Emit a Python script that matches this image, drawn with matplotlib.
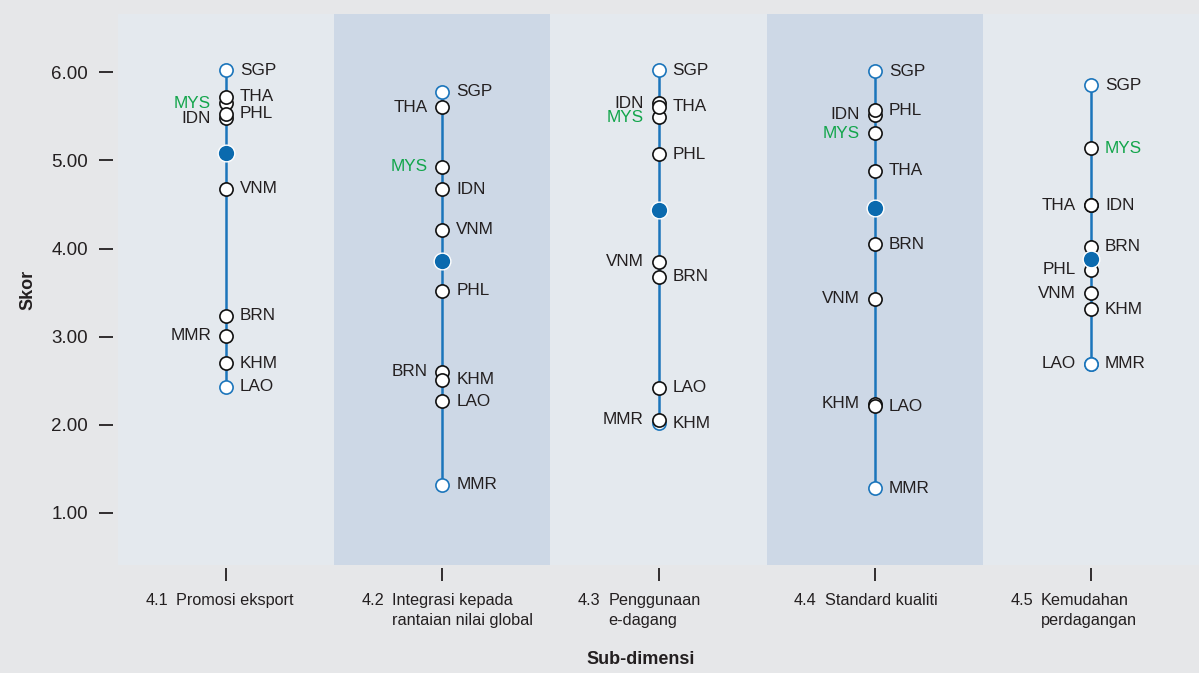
import matplotlib
matplotlib.use("Agg")
import matplotlib.pyplot as plt
from matplotlib.patches import Rectangle

# sub-dimension labels (number, description)
dim_nums = ["4.1", "4.2", "4.3", "4.4", "4.5"]
dim_names = ["Promosi eksport",
             "Integrasi kepada\nrantaian nilai global",
             "Penggunaan\ne-dagang",
             "Standard kualiti",
             "Kemudahan\nperdagangan"]

countries = ["BRN", "KHM", "IDN", "LAO", "MYS", "MMR", "PHL", "SGP", "THA", "VNM"]

# scores per sub-dimension, same order as countries
scores_41 = [3.24, 2.70, 5.48, 2.43, 5.65, 3.01, 5.53, 6.02, 5.72, 4.68]
scores_42 = [2.60, 2.51, 4.67, 2.27, 4.93, 1.32, 3.52, 5.78, 5.60, 4.21]
scores_43 = [3.68, 2.02, 5.65, 2.42, 5.49, 2.06, 5.07, 6.02, 5.61, 3.85]
scores_44 = [4.05, 2.24, 5.52, 2.21, 5.31, 1.28, 5.57, 6.01, 4.88, 3.43]
scores_45 = [4.02, 3.31, 4.49, 2.69, 5.14, 2.69, 3.76, 5.85, 4.49, 3.49]
all_scores = [scores_41, scores_42, scores_43, scores_44, scores_45]

# ASEAN average per sub-dimension
means = [5.08, 3.86, 4.44, 4.46, 3.88]

# which side the country label sits on (L/R), same order as countries
sides_41 = ["R", "R", "L", "R", "L", "L", "R", "R", "R", "R"]
sides_42 = ["L", "R", "R", "R", "L", "R", "R", "R", "L", "R"]
sides_43 = ["R", "R", "L", "R", "L", "L", "R", "R", "R", "L"]
sides_44 = ["R", "L", "L", "R", "L", "R", "R", "R", "R", "L"]
sides_45 = ["R", "R", "R", "L", "R", "R", "L", "R", "L", "L"]
all_sides = [sides_41, sides_42, sides_43, sides_44, sides_45]

BLUE = "#1b75bb"
MEAN_BLUE = "#0b6aae"
GREEN = "#12a54b"
TXT = "#231f20"
BG = "#e6e7e9"
BAND_LIGHT = "#e4e9ee"
BAND_DARK = "#cdd8e6"

plt.rcParams["font.family"] = ["Liberation Sans", "DejaVu Sans"]

fig = plt.figure(figsize=(11.99, 6.73), dpi=100, facecolor=BG)
ax = fig.add_axes([118 / 1199, 1 - 565 / 673, 1081 / 1199, 551 / 673])
ax.set_facecolor(BG)
ax.set_xlim(0, 5)
ax.set_ylim(0.41, 6.66)

for i in range(5):
    ax.add_patch(Rectangle((i, 0.41), 1, 6.25,
                           facecolor=BAND_DARK if i % 2 else BAND_LIGHT,
                           edgecolor="none", zorder=0))

for i, (vals, sides) in enumerate(zip(all_scores, all_sides)):
    xc = i + 0.5
    lo, hi = min(vals), max(vals)
    ax.plot([xc, xc], [lo, hi], color=BLUE, lw=1.8, zorder=2)
    for c, v, s in zip(countries, vals, sides):
        edge = BLUE if v in (lo, hi) else "#111111"
        ax.plot(xc, v, "o", ms=9.5, mfc="white", mec=edge, mew=1.2, zorder=3)
        col = GREEN if c == "MYS" else TXT
        dx = 14 if s == "R" else -15
        ax.annotate(c, (xc, v), xytext=(dx, 0), textcoords="offset pixels",
                    ha="left" if s == "R" else "right", va="center",
                    fontsize=12.3, color=col)
    ax.plot(xc, means[i], "o", ms=12, mfc=MEAN_BLUE, mec="white", mew=1.0, zorder=4)

for sp in ax.spines.values():
    sp.set_visible(False)
ax.spines["left"].set_position(("outward", 3.5))
ax.spines["bottom"].set_position(("outward", 2))

ax.set_yticks([1, 2, 3, 4, 5, 6])
ax.set_yticklabels(["1.00", "2.00", "3.00", "4.00", "5.00", "6.00"])
ax.tick_params(axis="y", length=10, width=1.3, color=TXT, pad=8,
               labelsize=13.5, labelcolor=TXT)
ax.set_xticks([i + 0.5 for i in range(5)])
ax.set_xticklabels([])
ax.tick_params(axis="x", length=9, width=1.3, color=TXT)

for i in range(5):
    xc = i + 0.5
    ax.annotate(dim_nums[i], (xc, 0), xycoords=("data", "axes fraction"),
                xytext=(-58, -28), textcoords="offset pixels",
                ha="right", va="top", fontsize=11.7, color=TXT)
    ax.annotate(dim_names[i], (xc, 0), xycoords=("data", "axes fraction"),
                xytext=(-50, -28), textcoords="offset pixels",
                ha="left", va="top", fontsize=11.7, color=TXT,
                linespacing=1.4)

fig.text(28 / 1199, 1 - 290 / 673, "Skor", rotation=90, ha="center", va="center",
         fontsize=13, fontweight="bold", color=TXT)
fig.text(641 / 1199, 1 - 660 / 673, "Sub-dimensi", ha="center", va="center",
         fontsize=13, fontweight="bold", color=TXT)

fig.savefig("out.png", dpi=100, facecolor=BG)
